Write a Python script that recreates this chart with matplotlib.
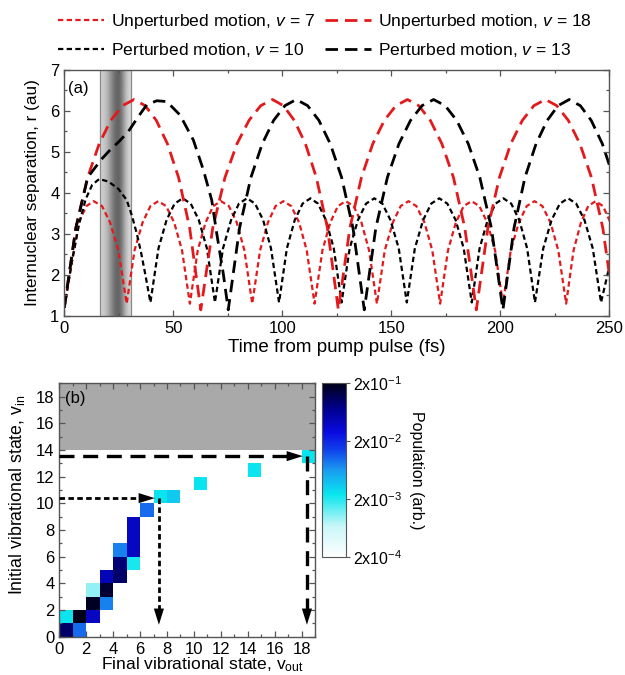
import numpy as np
import matplotlib
matplotlib.use('Agg')
import matplotlib.pyplot as plt
from matplotlib.colors import LinearSegmentedColormap, LogNorm
from matplotlib.ticker import MultipleLocator

plt.rcParams['font.family'] = ['Liberation Sans', 'DejaVu Sans']
plt.rcParams['mathtext.fontset'] = 'custom'
plt.rcParams['mathtext.rm'] = 'Liberation Sans'
plt.rcParams['mathtext.it'] = 'Liberation Sans:italic'

# --- datos panel (a): trayectorias r(t) ---
t_v7 = [0, 3.4, 6.8, 10.1, 13.5, 17.3, 21.0, 24.8,
        28.6, 32.2, 35.9, 39.5, 43.1, 46.7, 50.4, 54.0,
        57.6, 61.2, 64.8, 68.3, 71.9, 75.5, 79.1, 82.6,
        86.2, 89.8, 93.4, 96.9, 100.5, 104.1, 107.7, 111.2,
        114.8, 118.4, 122.0, 125.5, 129.1, 132.7, 136.3, 139.8,
        143.4, 147.0, 150.7, 154.3, 157.9, 161.5, 165.2, 168.8,
        172.4, 176.0, 179.6, 183.2, 186.8, 190.4, 194.0, 197.6,
        201.2, 204.8, 208.5, 212.1, 215.7, 219.3, 223.0, 226.6,
        230.2, 233.6, 237.0, 240.3, 243.7, 247.1, 250.5]
r_v7 = [1.2, 2.3, 3.3, 3.68, 3.8, 3.68, 3.28, 2.6,
        1.3, 2.6, 3.28, 3.68, 3.8, 3.68, 3.28, 2.6,
        1.3, 2.6, 3.28, 3.68, 3.8, 3.68, 3.28, 2.6,
        1.3, 2.6, 3.28, 3.68, 3.8, 3.68, 3.28, 2.6,
        1.3, 2.6, 3.28, 3.68, 3.8, 3.68, 3.28, 2.6,
        1.3, 2.6, 3.28, 3.68, 3.8, 3.68, 3.28, 2.6,
        1.3, 2.6, 3.28, 3.68, 3.8, 3.68, 3.28, 2.6,
        1.3, 2.6, 3.28, 3.68, 3.8, 3.68, 3.28, 2.6,
        1.3, 2.6, 3.28, 3.68, 3.8, 3.68, 3.28]

t_v10 = [0, 3.4, 6.8, 9.8, 12.8, 16.0, 20.2, 24.8, 28.6, 31.0, 33.2, 35.2, 37.2,
         39.5, 43.2, 46.9, 50.6, 54.3, 58.0, 61.7, 65.4,
         69.1, 72.8, 76.5, 80.1, 83.8, 87.5, 91.2, 94.8,
         98.5, 102.1, 105.7, 109.3, 112.9, 116.4, 120.0, 123.6,
         127.2, 130.9, 134.7, 138.4, 142.2, 145.9, 149.6, 153.4,
         157.1, 160.8, 164.6, 168.3, 172.0, 175.7, 179.5, 183.2,
         186.9, 190.5, 194.2, 197.8, 201.4, 205.0, 208.7, 212.3,
         215.9, 219.7, 223.5, 227.3, 231.1, 234.8, 238.6, 242.4,
         246.2, 250.0]
r_v10 = [1.2, 2.3, 3.25, 3.85, 4.2, 4.34, 4.28, 4.1, 3.83, 3.45, 3.02, 2.55, 2.0,
         1.33, 2.65, 3.34, 3.74, 3.87, 3.74, 3.34, 2.65,
         1.33, 2.65, 3.34, 3.74, 3.87, 3.74, 3.34, 2.65,
         1.33, 2.65, 3.34, 3.74, 3.87, 3.74, 3.34, 2.65,
         1.33, 2.65, 3.34, 3.74, 3.87, 3.74, 3.34, 2.65,
         1.33, 2.65, 3.34, 3.74, 3.87, 3.74, 3.34, 2.65,
         1.33, 2.65, 3.34, 3.74, 3.87, 3.74, 3.34, 2.65,
         1.33, 2.65, 3.34, 3.74, 3.87, 3.74, 3.34, 2.65,
         1.33, 2.2]

t_v18 = [0, 5.3, 10.7, 16.0, 21.3, 26.7, 32.0, 37.1, 42.2, 47.3, 52.4, 57.5,
         62.6, 68.1, 73.7, 79.2, 84.7, 90.1, 95.5, 100.5, 105.5, 110.6, 115.6, 120.7,
         125.7, 131.0, 136.3, 141.5, 146.8, 152.1, 157.4, 162.6, 167.9, 173.2, 178.5, 183.7,
         189.0, 194.3, 199.6, 204.8, 210.1, 215.4, 220.7, 225.9, 231.2, 236.5, 241.8, 247.0,
         252.3]
r_v18 = [1.2, 3.15, 4.38, 5.20, 5.77, 6.13, 6.28, 6.13, 5.77, 5.20, 4.38, 3.15,
         1.15, 3.15, 4.38, 5.20, 5.77, 6.13, 6.28, 6.13, 5.77, 5.20, 4.38, 3.15,
         1.15, 3.15, 4.38, 5.20, 5.77, 6.13, 6.28, 6.13, 5.77, 5.20, 4.38, 3.15,
         1.15, 3.15, 4.38, 5.20, 5.77, 6.13, 6.28, 6.13, 5.77, 5.20, 4.38, 3.15,
         1.15]

t_v13 = [0, 5.3, 10.7, 13.3, 17.0, 21.0, 25.0, 29.4, 33.9, 37.8, 42.4, 47.0, 53.1, 59.2, 63.8, 67.6, 69.9, 72.9,
         75.2, 80.4, 85.6, 90.8, 96.0, 101.2, 106.4, 111.6, 116.8, 122.0, 127.2, 132.4,
         137.6, 142.9, 148.2, 153.5, 158.8, 164.1, 169.4, 174.7, 180.0, 185.3, 190.6, 195.9,
         201.2, 206.3, 211.3, 216.4, 221.5, 226.5, 231.6, 236.7, 241.7, 246.8, 251.9]
r_v13 = [1.2, 3.15, 4.38, 4.56, 4.82, 5.05, 5.25, 5.5, 5.86, 6.15, 6.25, 6.23, 5.9, 5.29, 4.56, 3.83, 3.02, 2.04,
         1.15, 3.15, 4.38, 5.20, 5.77, 6.13, 6.28, 6.13, 5.77, 5.20, 4.38, 3.15,
         1.15, 3.15, 4.38, 5.20, 5.77, 6.13, 6.28, 6.13, 5.77, 5.20, 4.38, 3.15,
         1.15, 3.15, 4.38, 5.20, 5.77, 6.13, 6.28, 6.13, 5.77, 5.20, 4.38]

# banda gris del pulso (fs) y su perfil de gris
banda_t = [16.4, 30.5]
banda_gris = [0.82, 0.78, 0.72, 0.62, 0.50, 0.42, 0.38, 0.45, 0.62, 0.76, 0.84]

# --- datos panel (b): poblaciones (v_out, v_in) ---
v_out = [0, 1, 0, 1, 2, 2, 2, 3, 3, 3, 4, 4, 4, 5, 5, 5, 5, 6, 7, 8, 10, 14, 18]
v_in = [0, 0, 1, 1, 1, 2, 3, 2, 3, 4, 4, 5, 6, 5, 6, 7, 8, 9, 10, 10, 11, 12, 13]
poblacion = [1.0e-1, 1.0e-2, 2.5e-3, 2.0e-1, 4.0e-2, 1.8e-1, 1.0e-3, 8.0e-3, 1.6e-1,
             4.5e-2, 1.0e-1, 9.0e-2, 8.0e-3, 2.2e-3, 4.0e-2, 4.0e-2, 4.0e-2, 1.0e-2,
             2.5e-3, 3.5e-3, 2.5e-3, 2.5e-3, 2.5e-3]
v_disociado = 14
# flechas: (v_in de partida, v_out de llegada, estilo)
flechas = [(10.4, 7.4, 'corta'), (13.55, 18.4, 'larga')]

rojo = '#e3191c'
eje_col = '#555555'

fig = plt.figure(figsize=(6.25, 6.75), dpi=100)
ax1 = fig.add_axes([0.1029, 0.5319, 0.872, 0.3644])
ax2 = fig.add_axes([0.0949, 0.0566, 0.4091, 0.3753])
cax = fig.add_axes([0.5147, 0.1744, 0.0389, 0.2578])

# --- Panel (a) ---
ax1.imshow(np.array(banda_gris)[None, :], cmap='gray', vmin=0, vmax=1, aspect='auto',
           interpolation='bicubic', extent=[banda_t[0], banda_t[1], 1, 7], zorder=0)
for tb in banda_t:
    ax1.axvline(tb, color='#8a8a8a', lw=0.9, zorder=0.5)

corta = (2.4, 1.5)
larga = (4.5, 2.5)
l7, = ax1.plot(t_v7, r_v7, color=rojo, lw=1.6, dashes=corta, label=r'Unperturbed motion, $v$ = 7')
l10, = ax1.plot(t_v10, r_v10, color='black', lw=1.6, dashes=corta, label=r'Perturbed motion, $v$ = 10')
l18, = ax1.plot(t_v18, r_v18, color=rojo, lw=2.0, dashes=larga, label=r'Unperturbed motion, $v$ = 18')
l13, = ax1.plot(t_v13, r_v13, color='black', lw=2.0, dashes=larga, label=r'Perturbed motion, $v$ = 13')

ax1.set_xlim(0, 250)
ax1.set_ylim(1, 7)
ax1.xaxis.set_major_locator(MultipleLocator(50))
ax1.xaxis.set_minor_locator(MultipleLocator(25))
ax1.yaxis.set_major_locator(MultipleLocator(1))
ax1.yaxis.set_minor_locator(MultipleLocator(0.5))
ax1.set_xlabel('Time from pump pulse (fs)', fontsize=13.5, labelpad=2)
ax1.set_ylabel('Internuclear separation, r (au)', fontsize=12.3, labelpad=7)
ax1.text(1.5, 6.56, '(a)', fontsize=12, va='center', ha='left')

fig.legend(handles=[l7, l10, l18, l13], loc='upper left', bbox_to_anchor=(0.068, 1.005),
           ncol=2, frameon=False, fontsize=12.6, handlelength=2.6, handletextpad=0.4,
           columnspacing=0.6, labelspacing=0.55)

# --- Panel (b) ---
rejilla = np.full((19, 19), np.nan)
rejilla[v_in, v_out] = poblacion
cmap_pob = LinearSegmentedColormap.from_list('pob', [
    (0.0, '#ffffff'), (0.18, '#c8f6f8'), (0.36, '#08e6ee'), (0.50, '#1a9cf0'),
    (0.62, '#1040ea'), (0.72, '#0a0ae0'), (0.86, '#00008a'), (1.0, '#000018')])
norma = LogNorm(vmin=2e-4, vmax=2e-1)
malla = ax2.pcolormesh(np.arange(20), np.arange(20), np.ma.masked_invalid(rejilla),
                       cmap=cmap_pob, norm=norma, zorder=1)
ax2.axhspan(v_disociado, 19, color='#a9a9a9', zorder=0.8, lw=0)

for v_i, v_o, estilo in flechas:
    if estilo == 'corta':
        kw = dict(lw=2.0, dashes=(2.0, 1.2))
    else:
        kw = dict(lw=2.4, dashes=(4.5, 2.6))
    ax2.plot([0, v_o - 1.4], [v_i, v_i], color='black', zorder=3, **kw)
    ax2.plot([v_o, v_o], [v_i, 2.0], color='black', zorder=3, **kw)
    ap = dict(arrowstyle='-|>,head_length=0.9,head_width=0.28', color='black', lw=0,
              shrinkA=0, shrinkB=0, mutation_scale=13)
    ax2.annotate('', xy=(v_o - 0.3, v_i), xytext=(v_o - 1.6, v_i), arrowprops=ap, zorder=4)
    ax2.annotate('', xy=(v_o, 0.9), xytext=(v_o, 2.2), arrowprops=ap, zorder=4)

ax2.set_xlim(0, 19)
ax2.set_ylim(0, 19)
for eje in (ax2.xaxis, ax2.yaxis):
    eje.set_major_locator(MultipleLocator(2))
    eje.set_minor_locator(MultipleLocator(1))
ax2.set_xlabel(r'Final vibrational state, v$_{\mathrm{out}}$', fontsize=12.6, labelpad=0)
ax2.set_ylabel(r'Initial vibrational state, v$_{\mathrm{in}}$', fontsize=12.8, labelpad=4)
ax2.xaxis.set_label_coords(0.56, -0.074)
ax2.yaxis.set_label_coords(-0.125, 0.56)
ax2.text(0.4, 17.9, '(b)', fontsize=12, va='center', ha='left', zorder=5)

for ax in (ax1, ax2):
    ax.tick_params(which='both', direction='in', top=True, right=True, labelsize=12,
                   color=eje_col, width=0.9)
    ax.tick_params(which='major', length=4.5)
    ax.tick_params(which='minor', length=2.5)
    for s in ax.spines.values():
        s.set_color(eje_col)
        s.set_linewidth(1.0)
    ax.set_axisbelow(False)

cb = fig.colorbar(malla, cax=cax)
cb.set_ticks([2e-4, 2e-3, 2e-2, 2e-1])
cb.set_ticklabels([r'2x10$^{-4}$', r'2x10$^{-3}$', r'2x10$^{-2}$', r'2x10$^{-1}$'])
cb.ax.minorticks_off()
cb.ax.tick_params(labelsize=11.5, length=3, color=eje_col, pad=2)
cb.outline.set_edgecolor(eje_col)
cb.set_label('Population (arb.)', rotation=270, fontsize=11.5, labelpad=16)

fig.savefig('out.png', dpi=100)
